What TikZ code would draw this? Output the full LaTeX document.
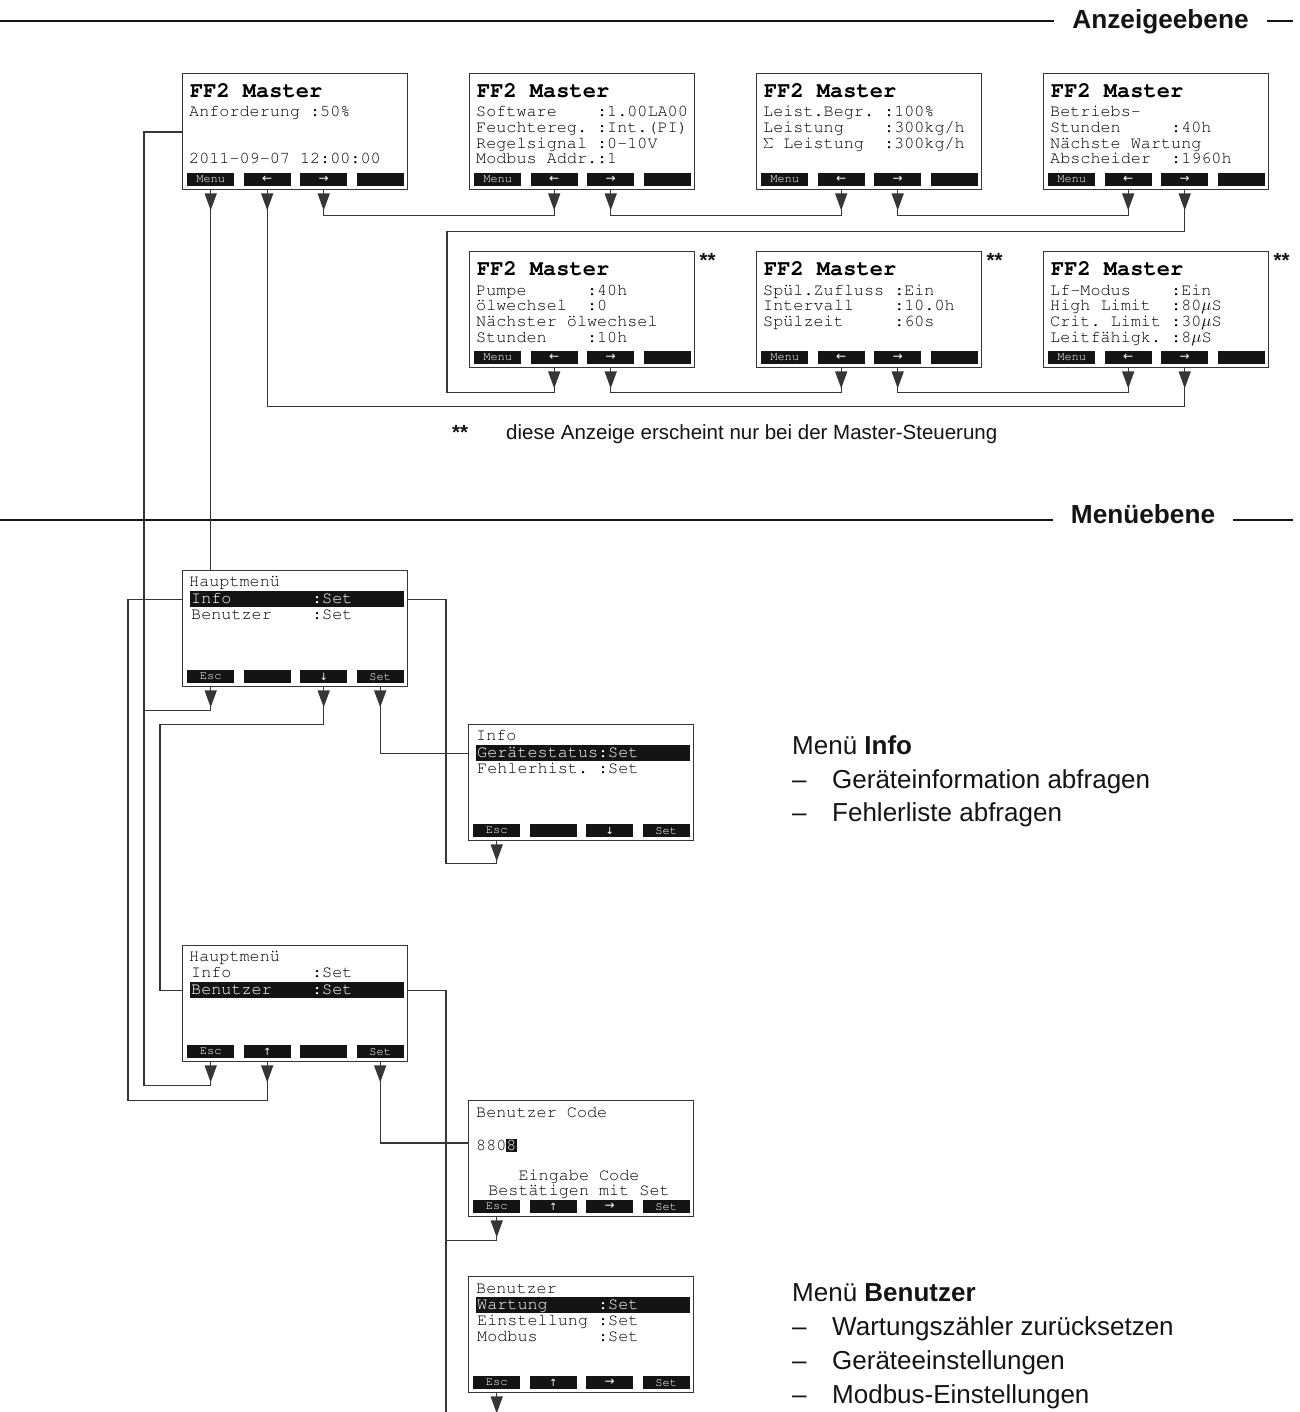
\documentclass[tikz,border=0pt]{standalone}
\usepackage[T1]{fontenc}
\usepackage{fontspec}
\setmainfont{Liberation Sans}
\newfontfamily\arrowfont{DejaVu Sans}
\usetikzlibrary{arrows.meta}
\frenchspacing
\definecolor{ink}{HTML}{141414}
\definecolor{wire}{HTML}{363636}
\newcommand{\lcdtext}{\fontencoding{T1}\fontfamily{pcr}\fontseries{m}\fontsize{16.8pt}{18pt}\selectfont}
\newcommand{\lcdhead}{\fontencoding{T1}\fontfamily{pcr}\fontseries{b}\fontsize{22pt}{24pt}\selectfont}
\newcommand{\lcdkey}{\fontencoding{T1}\fontfamily{pcr}\fontseries{m}\fontsize{12pt}{12pt}\selectfont}
\newcommand{\keyleft}{{\arrowfont\fontsize{12pt}{12pt}\selectfont ←}}
\newcommand{\keyright}{{\arrowfont\fontsize{12pt}{12pt}\selectfont →}}
\newcommand{\keyup}{{\arrowfont\fontsize{10pt}{10pt}\selectfont ↑}}
\newcommand{\keydown}{{\arrowfont\fontsize{10pt}{10pt}\selectfont ↓}}
\tikzstyle{scr}=[draw=wire, line width=1.4pt, anchor=north west, minimum width=225pt, minimum height=116pt, inner sep=0pt]
\tikzstyle{softkey}=[fill=ink, text=white, font=\lcdkey, anchor=north west, minimum width=47pt, minimum height=13pt, inner sep=0pt]
\tikzstyle{sel}=[fill=ink, anchor=north west, minimum width=214pt, minimum height=16pt, inner sep=0pt]
\tikzstyle{lcd}=[font=\lcdtext, text=black, anchor=base west, inner sep=0pt]
\tikzstyle{lcdinv}=[lcd, text=white]
\tikzstyle{lcdtitle}=[lcd, font=\lcdhead]
\tikzstyle{link}=[draw=wire, line width=1.4pt]
\tikzstyle{press}=[link, -{Triangle[length=17pt,width=12pt]}]
\tikzstyle{levelrule}=[draw=ink, line width=1.3pt]
\tikzstyle{ebene}=[font={\fontsize{26.2pt}{28pt}\selectfont\bfseries}, text=ink, anchor=base, inner xsep=18pt, inner ysep=0pt]
\tikzstyle{note}=[font={\fontsize{26pt}{28pt}\selectfont}, text=ink, anchor=base west, inner sep=0pt]
\tikzstyle{fn}=[font={\fontsize{20.5pt}{22pt}\selectfont}, text=ink, anchor=base west, inner sep=0pt]

\begin{document}
\begin{tikzpicture}[x=1pt,y=-1pt]
    \fill[white] (0,0) rectangle (1299,1412);
    \useasboundingbox (0,0) rectangle (1299,1412);

    % Ebenen
    \node[ebene] (anz) at (1160.5,29) {Anzeigeebene};
    \coordinate (anzl) at (0,21);
    \coordinate (anzr) at (1293,21);
    \draw[levelrule] (anzl) -- (anzl -| anz.west);
    \draw[levelrule] (anz.east |- anzr) -- (anzr);
    \node[ebene] (men) at (1143,523) {Menüebene};
    \coordinate (menl) at (0,520);
    \coordinate (menr) at (1293,520);
    \draw[levelrule] (menl) -- (menl -| men.west);
    \draw[levelrule] (men.east |- menr) -- (menr);

    % Displays mit Softkeys
    \foreach \s/\x/\y/\ka/\kb/\kc/\kd in {a1/182/73/Menu/\keyleft/\keyright/,
        a2/469/73/Menu/\keyleft/\keyright/, a3/756/73/Menu/\keyleft/\keyright/,
        a4/1043/73/Menu/\keyleft/\keyright/, a5/469/251/Menu/\keyleft/\keyright/,
        a6/756/251/Menu/\keyleft/\keyright/, a7/1043/251/Menu/\keyleft/\keyright/,
        h1/182/570/Esc//\keydown/Set, inf/468/724/Esc//\keydown/Set,
        h2/182/945/Esc/\keyup//Set, code/468/1100/Esc/\keyup/\keyright/Set,
        ben/468/1276/Esc/\keyup/\keyright/Set}
    {
        \node[scr] (\s) at (\x,\y) {};
        \node[softkey] (\s-1) at (\x+5,\y+100) {\ka};
        \node[softkey] (\s-2) at (\x+61.5,\y+100) {\kb};
        \node[softkey] (\s-3) at (\x+118,\y+100) {\kc};
        \node[softkey] (\s-4) at (\x+174.5,\y+100) {\kd};
    }
    \foreach \s in {a1,a2,a3,a4,a5,a6,a7}
        \node[lcdtitle] at ([xshift=8pt,yshift=-24.5pt]\s.north west) {FF2 Master};
    \foreach \s in {a5,a6,a7}
        \node[fn] at ([xshift=4pt,yshift=-17pt]\s.north east) {\textbf{**}};

    \node[lcd] at (189,117) {Anforderung~:50\%};
    \node[lcd] at (189,164) {2011-09-07 12:00:00};
    \node[lcd] at (476,117) {Software~~~~:1.00LA00};
    \node[lcd] at (476,132.7) {Feuchtereg.~:Int.(PI)};
    \node[lcd] at (476,148.3) {Regelsignal~:0-10V};
    \node[lcd] at (476,164) {Modbus Addr.:1};
    \node[lcd] at (763,117) {Leist.Begr.~:100\%};
    \node[lcd] at (763,132.7) {Leistung~~~~:300kg/h};
    \node[lcd] at (763,148.3) {\makebox[0.6em][l]{$\sum$}~Leistung~~:300kg/h};
    \node[lcd] at (1050,117) {Betriebs-};
    \node[lcd] at (1050,132.7) {Stunden~~~~~:40h};
    \node[lcd] at (1050,148.3) {Nächste Wartung};
    \node[lcd] at (1050,164) {Abscheider~~:1960h};
    \node[lcd] at (476,295) {Pumpe~~~~~~:40h};
    \node[lcd] at (476,310.7) {ölwechsel~~:0};
    \node[lcd] at (476,326.3) {Nächster ölwechsel};
    \node[lcd] at (476,342) {Stunden~~~~:10h};
    \node[lcd] at (763,295) {Spül.Zufluss~:Ein};
    \node[lcd] at (763,310.7) {Intervall~~~~:10.0h};
    \node[lcd] at (763,326.3) {Spülzeit~~~~~:60s};
    \node[lcd] at (1050,295) {Lf-Modus~~~~:Ein};
    \node[lcd] at (1050,310.7) {High Limit~~:80$\mu$S};
    \node[lcd] at (1050,326.3) {Crit. Limit~:30$\mu$S};
    \node[lcd] at (1050,342) {Leitfähigk.~:8$\mu$S};

    \node[lcd] at (189,586) {Hauptmenü};
    \node[sel] (h1sel) at (190,591) {};
    \node[lcdinv] at (191,603) {Info~~~~~~~~:Set};
    \node[lcd] at (191,619) {Benutzer~~~~:Set};

    \node[lcd] at (476,740) {Info};
    \node[sel] (infsel) at (476,745) {};
    \node[lcdinv] at (477,757) {Gerätestatus:Set};
    \node[lcd] at (477,773) {Fehlerhist.~:Set};

    \node[lcd] at (189,961) {Hauptmenü};
    \node[lcd] at (191,977) {Info~~~~~~~~:Set};
    \node[sel] (h2sel) at (190,982) {};
    \node[lcdinv] at (191,994) {Benutzer~~~~:Set};

    \node[lcd] at (476,1117) {Benutzer Code};
    \node[lcd] at (476,1150) {880{\setlength{\fboxsep}{0pt}\colorbox{ink}{\textcolor{white}{\rule[-2pt]{0pt}{13pt}8}}}};
    \node[lcd, anchor=base] at (579,1180) {Eingabe Code};
    \node[lcd, anchor=base] at (579,1195) {Bestätigen mit Set};

    \node[lcd] at (476,1293) {Benutzer};
    \node[sel] (bensel) at (476,1297) {};
    \node[lcdinv] at (477,1309) {Wartung~~~~~:Set};
    \node[lcd] at (477,1325) {Einstellung~:Set};
    \node[lcd] at (477,1341) {Modbus~~~~~~:Set};

    % Erlaeuterungen
    \node[fn] at (452,439) {\makebox[54pt][l]{\textbf{**}}diese Anzeige erscheint nur bei der Master-Steuerung};
    \node[note] at (792,754) {Menü \textbf{Info}};
    \node[note] at (792,788) {\makebox[40pt][l]{–}Geräteinformation abfragen};
    \node[note] at (792,821) {\makebox[40pt][l]{–}Fehlerliste abfragen};
    \node[note] at (792,1301) {Menü \textbf{Benutzer}};
    \node[note] at (792,1335) {\makebox[40pt][l]{–}Wartungszähler zurücksetzen};
    \node[note] at (792,1369) {\makebox[40pt][l]{–}Geräteeinstellungen};
    \node[note] at (792,1403) {\makebox[40pt][l]{–}Modbus-Einstellungen};

    % Verbindungen Anzeigeebene
    \draw[link] (a1-3 |- a1.south) -- ++(0,25) -| (a2-2 |- a2.south);
    \draw[link] (a2-3 |- a2.south) -- ++(0,25) -| (a3-2 |- a3.south);
    \draw[link] (a3-3 |- a3.south) -- ++(0,25) -| (a4-2 |- a4.south);
    \draw[link] (a5-2 |- a5.south) -- ++(0,24) -| ([xshift=-22pt]a5.west) |- ([yshift=-41pt]a4.south) -| (a4-3 |- a4.south);
    \draw[link] (a5-3 |- a5.south) -- ++(0,24) -| (a6-2 |- a6.south);
    \draw[link] (a6-3 |- a6.south) -- ++(0,24) -| (a7-2 |- a7.south);
    \draw[link] (a7-3 |- a7.south) -- ++(0,38) -| (a1-2 |- a1.south);

    % Verbindungen Menueebene
    \coordinate (escbus) at (144,132);
    \coordinate (upbus) at (128,0);
    \coordinate (downbus) at (160,0);
    \coordinate (infbus) at (446,0);
    \coordinate (benbus) at (446,1412);
    \draw[link] (a1-1 |- a1.south) -- (a1-1 |- h1.north);
    \draw[link] (h2-1 |- h2.south) -- ++(0,23) -| (escbus) -- (escbus -| a1.west);
    \draw[link] (h1-1 |- h1.south) -- ++(0,23) -| (escbus);
    \draw[link] (h2-2 |- h2.south) -- ++(0,38) -| (h1sel -| upbus) -- (h1.west |- h1sel);
    \draw[link] (h1-3 |- h1.south) -- ++(0,37) -| (h2sel -| downbus) -- (h2.west |- h2sel);
    \draw[link] (h1-4 |- h1.south) |- (inf.west |- infsel);
    \draw[link] (inf-1 |- inf.south) -- ++(0,22) -| (h1sel -| infbus) -- (h1.east |- h1sel);
    \draw[link] (h2-4 |- h2.south) |- ([yshift=-43pt]code.north west);
    \draw[link] (h2.east |- h2sel) -| (benbus);
    \draw[link] (code-1 |- code.south) -- ++(0,23) -| (benbus);
    \draw[link] (ben-1 |- ben.south) -- (ben-1 |- benbus);

    \foreach \k in {a1-1,a1-2,a1-3,a2-2,a2-3,a3-2,a3-3,a4-2,a4-3,a5-2,a5-3,a6-2,a6-3,
        a7-2,a7-3,h1-1,h1-3,h1-4,inf-1,h2-1,h2-2,h2-4,code-1,ben-1}
        \draw[press] (\k.south) ++(0,3) -- ++(0,21);
\end{tikzpicture}
\end{document}
